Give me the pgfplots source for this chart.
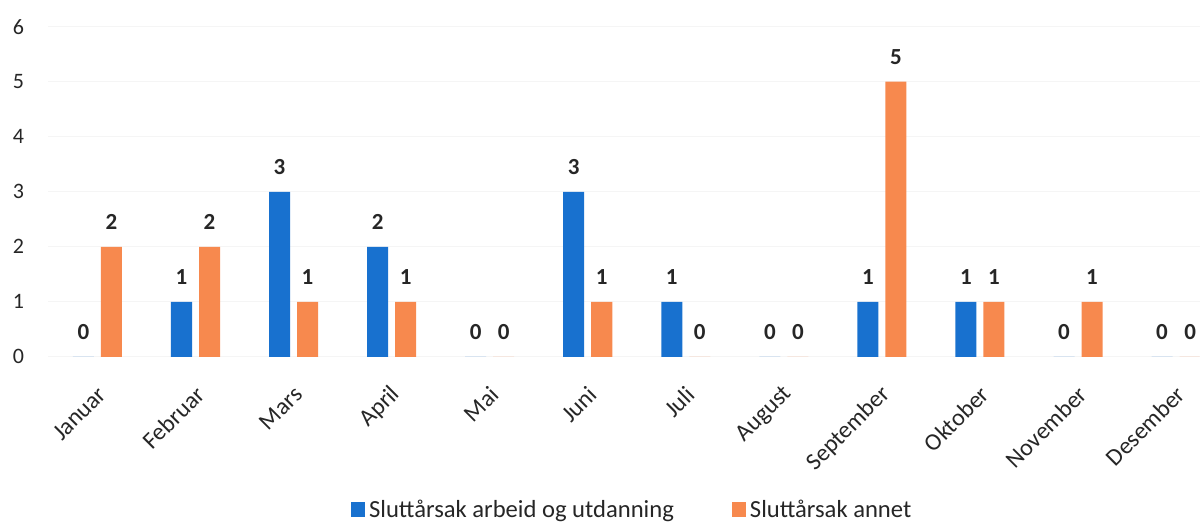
\documentclass[border=0pt]{standalone}
\usepackage{fontspec}
\setmainfont{Carlito}
\usepackage{pgfplots}
\pgfplotsset{compat=1.18}
\definecolor{cblue}{RGB}{24,113,207}
\definecolor{corange}{RGB}{247,137,78}
\definecolor{txt}{RGB}{38,38,38}
\begin{document}
\begin{tikzpicture}
\begin{axis}[
  x=49pt, y=27.5pt,
  xmin=-0.5, xmax=11.24, ymin=0, ymax=6.33,
  ybar=3.5pt, bar width=10.5pt,
  axis line style={draw=none},
  tick style={draw=none},
  ymajorgrids, grid style={black!4},
  ytick={0,1,2,3,4,5,6},
  xtick={0,1,2,3,4,5,6,7,8,9,10,11},
  xticklabels={Januar,Februar,Mars,April,Mai,Juni,Juli,August,September,Oktober,November,Desember},
  /pgf/number format/assume math mode=true,
  yticklabel style={font=\fontsize{11}{13}\selectfont, text=txt, inner sep=0pt, text width=12pt, align=right, anchor=east, xshift=-12pt},
  xticklabel style={font=\fontsize{12}{14}\selectfont, text=txt, xshift=2.5pt, yshift=-12.5pt, rotate=45, anchor=east, inner sep=0pt},
  nodes near coords,
  every node near coord/.append style={font=\bfseries\fontsize{11.5}{13}\selectfont, text=txt, inner sep=0pt, yshift=8.25pt},
  legend columns=2,
  legend style={draw=none, at={(0.508,-0.439)}, anchor=center, inner xsep=0pt, inner ysep=3pt,
    font=\fontsize{12.3}{14}\selectfont, text=txt,
    /tikz/every even column/.append style={column sep=27pt}},
  legend image code/.code={\fill[#1] (0pt,-3.4pt) rectangle (7pt,4.1pt);},
]
\addplot[fill=cblue, draw=none] coordinates {(0,0) (1,1) (2,3) (3,2) (4,0) (5,3) (6,1) (7,0) (8,1) (9,1) (10,0) (11,0)};
\addplot[fill=corange, draw=none] coordinates {(0,2) (1,2) (2,1) (3,1) (4,0) (5,1) (6,0) (7,0) (8,5) (9,1) (10,1) (11,0)};
\legend{Sluttårsak arbeid og utdanning, Sluttårsak annet}
\end{axis}
\end{tikzpicture}
\end{document}
